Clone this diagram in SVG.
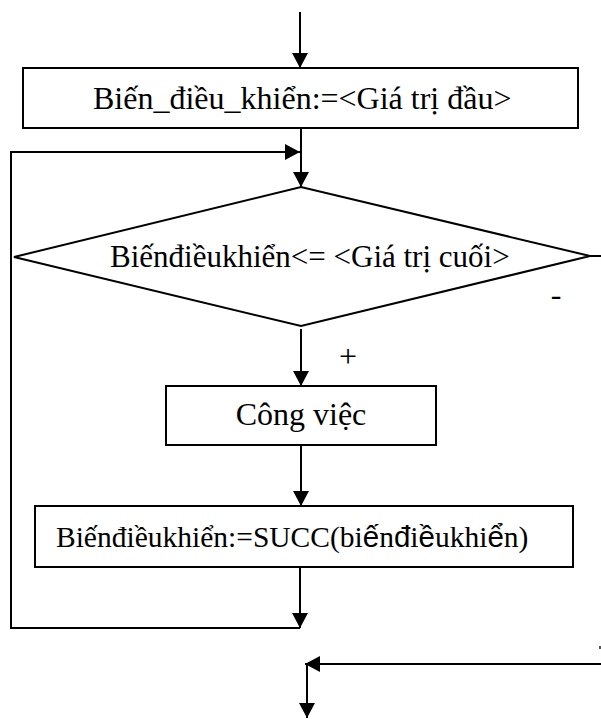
<svg xmlns="http://www.w3.org/2000/svg" width="601" height="719" viewBox="0 0 601 719">
<style>
.box{fill:#fff;stroke:#000;stroke-width:2}
.ln{fill:none;stroke:#000;stroke-width:2}
.t{font-family:"Liberation Serif","Times New Roman",serif;font-size:32px;fill:#000}
.s{font-family:"Liberation Sans",Arial,sans-serif}
</style>
<defs>
<marker id="ah" viewBox="0 0 15 16" refX="15" refY="8" markerWidth="15" markerHeight="16" markerUnits="userSpaceOnUse" orient="auto">
<path d="M0,0 L15,8 L0,16 z" fill="#000"/>
</marker>
</defs>
<rect width="601" height="719" fill="#fff"/>
<g id="connectors">
<path class="ln" d="M300,12 V68" marker-end="url(#ah)"/>
<path class="ln" d="M301,128 V187" marker-end="url(#ah)"/>
<path class="ln" d="M301,329 V386" marker-end="url(#ah)"/>
<path class="ln" d="M301,445 V506" marker-end="url(#ah)"/>
<path class="ln" d="M300,567 V628" marker-end="url(#ah)"/>
<path class="ln" d="M300,628 H11 V152 H300" marker-end="url(#ah)"/>
<path class="ln" d="M590,256 H601"/>
<path class="ln" d="M601,664 H305" marker-end="url(#ah)"/>
<path class="ln" d="M307,664 V718" marker-end="url(#ah)"/>
<text class="t" x="348" y="367" text-anchor="middle">+</text>
<text class="t" x="556" y="305" text-anchor="middle">-</text>
<rect x="599" y="646" width="2" height="3" fill="#555"/>
</g>
<g id="n-init">
<rect class="box" x="23" y="68" width="555" height="60"/>
<text class="t" x="93" y="109">Biến_điều_khiển:=&lt;Giá trị đầu&gt;</text>
</g>
<g id="n-cond">
<polygon class="box" points="14,257 301,187 590,256 301,326"/>
<text class="t" x="110" y="267" style="font-size:31px">Biếnđiềukhiển&lt;= &lt;Giá trị cuối&gt;</text>
</g>
<g id="n-work">
<rect class="box" x="166" y="386" width="270" height="59"/>
<text class="t" x="301" y="425" text-anchor="middle">Công việc</text>
</g>
<g id="n-succ">
<rect class="box" x="35" y="506" width="538" height="61"/>
<text class="t" x="56" y="547" style="font-size:29.5px">Biếnđiềukhiển:=SUCC(bi<tspan class="s">ế</tspan>n<tspan class="s">đ</tspan>i<tspan class="s">ề</tspan>ukhi<tspan class="s">ể</tspan>n)</text>
</g>
</svg>
